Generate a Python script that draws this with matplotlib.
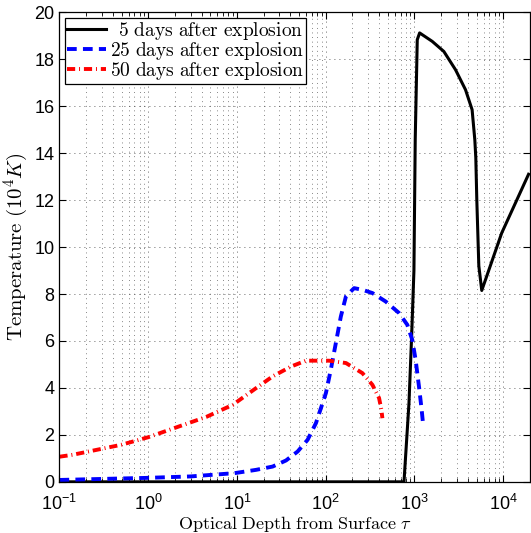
import numpy as np
import matplotlib
matplotlib.use('Agg')
import matplotlib.pyplot as plt

plt.rcParams['font.family'] = ['Liberation Sans', 'DejaVu Sans']
plt.rcParams['mathtext.fontset'] = 'cm'

# 5 days after explosion
tau_5 = [0.1, 100, 762, 867, 929, 986, 1020, 1075, 1143, 1585, 2143, 2902, 3760,
         4460, 4785, 4910, 5040, 5310, 5730, 9620, 19300]
temp_5 = [0, 0, 0, 3.35, 6.2, 9.0, 14.6, 18.83, 19.12, 18.76, 18.33, 17.55, 16.7,
          15.85, 14.57, 13.8, 12.0, 9.2, 8.15, 10.6, 13.1]

# 25 days after explosion
tau_25 = [0.1, 1.0, 3.0, 9.4, 16.4, 25.2, 35.7, 48.2, 62.5, 77.6, 100.5, 114,
          130, 148, 169, 209, 259, 336, 474, 670, 830, 944, 1030, 1124, 1205, 1247]
temp_25 = [0.08, 0.17, 0.23, 0.37, 0.51, 0.65, 0.91, 1.29, 1.79, 2.5, 3.78, 4.77,
           5.91, 7.04, 7.9, 8.25, 8.18, 8.04, 7.68, 7.19, 6.69, 6.05, 5.2, 4.06,
           3.07, 2.5]

# 50 days after explosion
tau_50 = [0.1, 0.14, 0.5, 1.0, 4.54, 8.97, 16.4, 25.2, 40.6, 59.8, 109, 169, 259,
          336, 399, 424, 435]
temp_50 = [1.07, 1.15, 1.58, 1.9, 2.77, 3.28, 3.99, 4.49, 4.91, 5.16, 5.16, 5.06,
           4.63, 4.13, 3.57, 3.07, 2.71]

labels = [r'$\mathrm{\enspace5\ days\ after\ explosion}$',
          r'$\mathrm{25\ days\ after\ explosion}$',
          r'$\mathrm{50\ days\ after\ explosion}$']

fig = plt.figure(figsize=(5.31, 5.33), dpi=100)
ax = fig.add_axes([0.112, 0.096, 0.886, 0.881])

ax.plot(tau_5, temp_5, color='k', lw=2.2, label=labels[0])
ax.plot(tau_25, temp_25, color='b', lw=2.8, dashes=(2.5, 1.6), label=labels[1])
ax.plot(tau_50, temp_50, color='r', lw=2.8, dashes=(2.1, 1.0, 0.25, 1.0), label=labels[2])

ax.set_xscale('log')
ax.set_xlim(0.1, 2e4)
ax.set_ylim(0, 20)
ax.set_yticks(np.arange(0, 21, 2))

ax.grid(True, which='major', axis='both', color='0.2', lw=0.6, ls=(0, (1, 5)))
ax.grid(True, which='minor', axis='x', color='0.25', lw=0.55, ls=(0, (1, 5)))

ax.tick_params(which='both', direction='in', top=True, right=True, labelsize=13)
ax.tick_params(axis='x', which='major', pad=9)
ax.tick_params(which='major', length=5, width=0.8)
ax.tick_params(which='minor', length=3, width=0.6)
for s in ax.spines.values():
    s.set_linewidth(0.9)

ax.set_xlabel(r'$\mathrm{Optical\ Depth\ from\ Surface}\ \tau$', fontsize=13, labelpad=0)
ax.set_ylabel(r'$\mathrm{Temperature\ (10^4}K\mathrm{)}$', fontsize=15, labelpad=3)

leg = ax.legend(loc='upper left', fontsize=14, handlelength=2.0, handletextpad=0.2,
                borderaxespad=0.3, borderpad=0.1, labelspacing=-0.1, fancybox=False,
                framealpha=1)
leg.get_frame().set_edgecolor('k')
leg.get_frame().set_linewidth(0.9)

plt.savefig('out.png', dpi=100, facecolor='w')
